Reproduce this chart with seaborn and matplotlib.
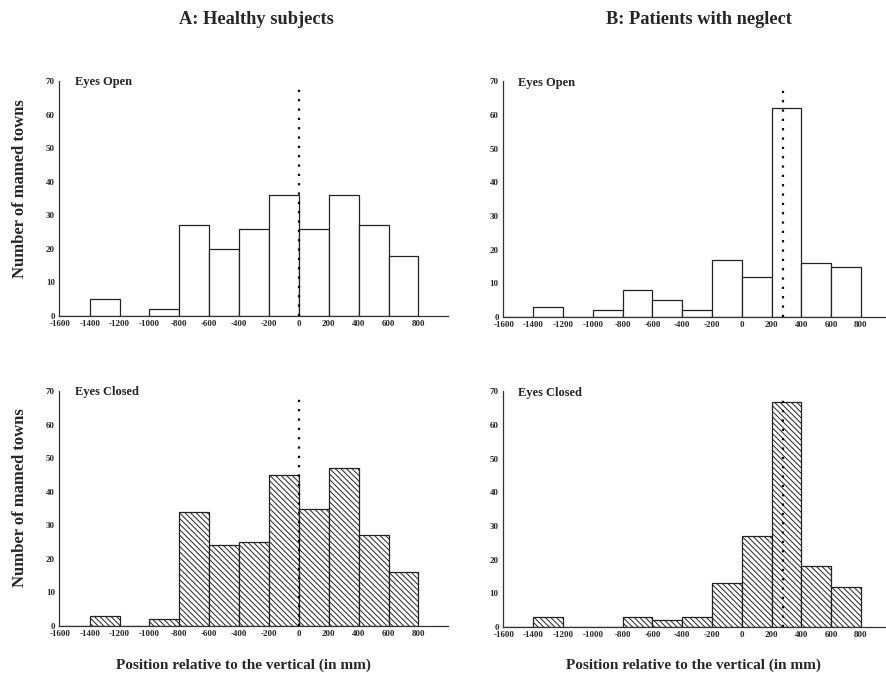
# Histograms of named town positions: healthy subjects vs patients with neglect
import numpy as np
import pandas as pd
import matplotlib
matplotlib.use("Agg")
import matplotlib.pyplot as plt
import seaborn as sns

# Bin edges (mm) and the lower edge of every bin
bin_edges = [-1600, -1400, -1200, -1000, -800, -600, -400, -200, 0, 200, 400, 600, 800]
bin_starts = bin_edges[:-1]

# Counts per bin
healthy_open = [0, 5, 0, 2, 27, 20, 26, 36, 26, 36, 27, 18]
healthy_closed = [0, 3, 0, 2, 34, 24, 25, 45, 35, 47, 27, 16]
neglect_open = [0, 3, 0, 2, 8, 5, 2, 17, 12, 62, 16, 15]
neglect_closed = [0, 3, 0, 0, 3, 2, 3, 13, 27, 67, 18, 12]

# Position of the dotted reference line in each panel
healthy_vertical = 0
neglect_vertical = 275

x_ticks = [-1600, -1400, -1200, -1000, -800, -600, -400, -200, 0, 200, 400, 600, 800]
y_ticks = [0, 10, 20, 30, 40, 50, 60, 70]

sns.set_style("white")
plt.rcParams['font.family'] = ['Liberation Serif', 'DejaVu Serif']
plt.rcParams['font.weight'] = 'bold'
plt.rcParams['axes.unicode_minus'] = False
plt.rcParams['hatch.linewidth'] = 0.7

fig = plt.figure(figsize=(8.87, 6.73), dpi=100)

panels = [
    # counts, vertical line, axes rect, xlim right, label, hatched
    (healthy_open, healthy_vertical, [0.0665, 0.5305, 0.439, 0.349], 1000, "Eyes Open", False),
    (neglect_open, neglect_vertical, [0.567, 0.5290, 0.432, 0.350], 970, "Eyes Open", False),
    (healthy_closed, healthy_vertical, [0.0665, 0.0698, 0.439, 0.349], 1000, "Eyes Closed", True),
    (neglect_closed, neglect_vertical, [0.567, 0.0683, 0.432, 0.350], 970, "Eyes Closed", True),
]

for counts, vline, rect, xmax, label, hatched in panels:
    ax = fig.add_axes(rect)
    df = pd.DataFrame({"pos": np.array(bin_starts) + 100, "n": counts})
    sns.histplot(data=df, x="pos", weights="n", bins=bin_edges, ax=ax,
                 color="white", edgecolor="#222222", linewidth=0.9, alpha=1,
                 hatch="\\" * 6 if hatched else None)
    # dotted line marking the vertical
    ax.plot([vline, vline], [0, 68], color="black", linestyle=(0, (1, 3.2)),
            linewidth=1.6, zorder=5)
    ax.set_xlim(-1605, xmax)
    ax.set_ylim(0, 70)
    ax.set_xticks(x_ticks)
    ax.set_yticks(y_ticks)
    ax.tick_params(axis="both", length=0, labelsize=6.5, pad=3)
    for t in ax.get_xticklabels() + ax.get_yticklabels():
        t.set_fontweight("bold")
    sns.despine(ax=ax)
    for side in ["left", "bottom"]:
        ax.spines[side].set_color("#333333")
        ax.spines[side].set_linewidth(0.9)
    ax.set_xlabel("")
    ax.set_ylabel("")
    ax.text(0.04, 0.995, label, transform=ax.transAxes, fontsize=9,
            fontweight="bold", va="center", ha="left")

# Column titles
fig.text(0.289, 0.971, "A: Healthy subjects", ha="center", va="center",
         fontsize=13.2, fontweight="bold")
fig.text(0.788, 0.971, "B: Patients with neglect", ha="center", va="center",
         fontsize=13.2, fontweight="bold")

# Y axis labels
fig.text(0.022, 0.72, "Number of mamed towns", rotation=90, ha="center",
         va="center", fontsize=12, fontweight="bold")
fig.text(0.022, 0.26, "Number of mamed towns", rotation=90, ha="center",
         va="center", fontsize=12, fontweight="bold")

# X axis labels
fig.text(0.274, 0.012, "Position relative to the vertical (in mm)", ha="center",
         va="center", fontsize=11, fontweight="bold")
fig.text(0.782, 0.012, "Position relative to the vertical (in mm)", ha="center",
         va="center", fontsize=11, fontweight="bold")

fig.savefig("out.png", dpi=100)
